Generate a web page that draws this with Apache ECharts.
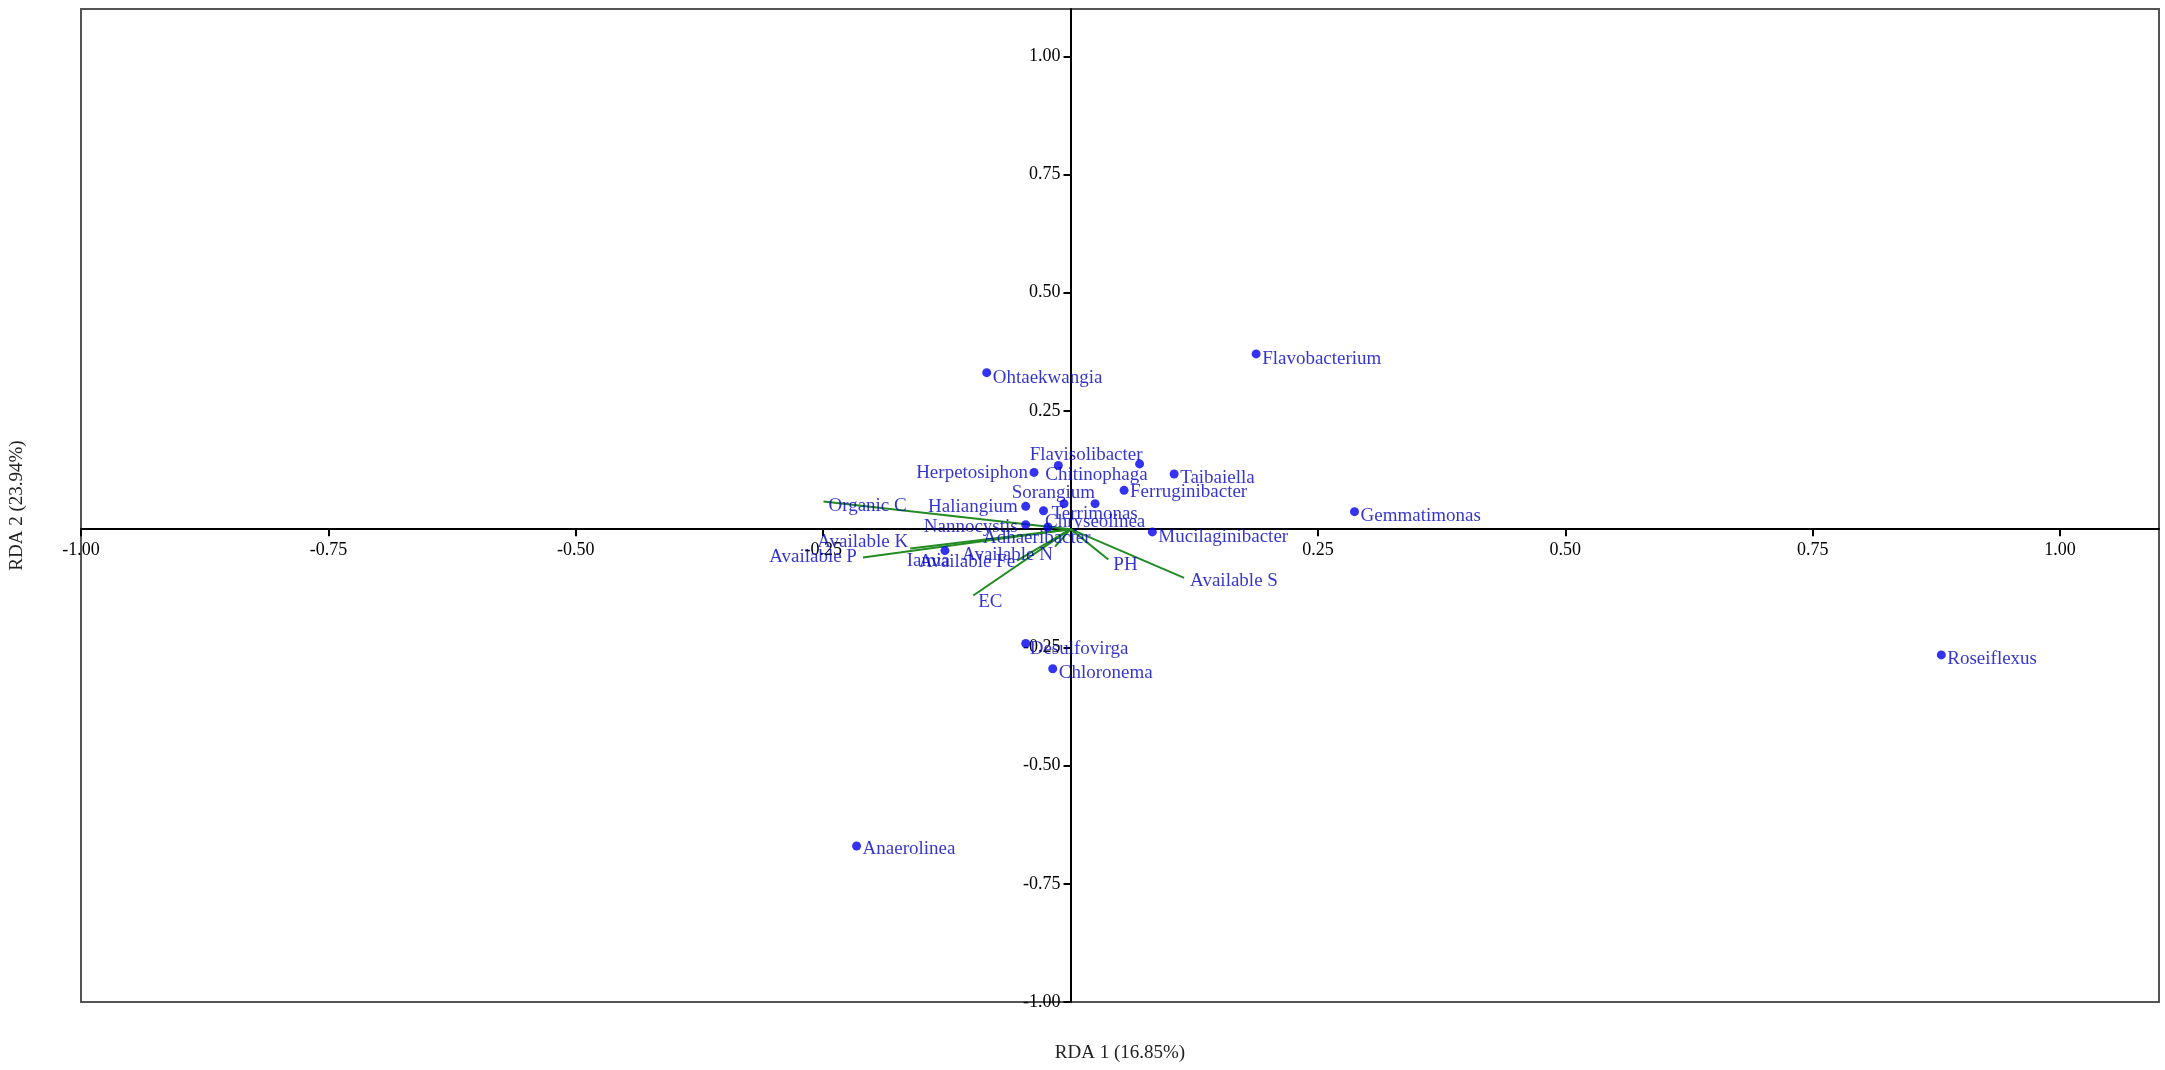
<!DOCTYPE html>
<html><head><meta charset="utf-8">
<script src="https://cdn.jsdelivr.net/npm/echarts@6/dist/echarts.min.js"></script>
<style>html,body{margin:0;padding:0;background:#fff}#c{width:2165px;height:1070px}</style>
</head><body><div id="c"></div>
<script>
// ---- data ----
const speciesNames = ["Ohtaekwangia","Flavobacterium","Flavisolibacter","Herpetosiphon","Chitinophaga","Taibaiella","Sorangium","Ferruginibacter","Haliangium","Terrimonas","Gemmatimonas","Nannocystis","Chryseolinea","Mucilaginibacter","Adhaeribacter","Iamia","Desulfovirga","Chloronema","Roseiflexus","Anaerolinea"];
const speciesX = [-0.0847, 0.1876, 0.0698, -0.0369, -0.0123, 0.1047, 0.0248, 0.0541, -0.0453, -0.0273, 0.287, -0.0453, -0.0066, 0.0827, -0.0228, -0.1269, -0.0453, -0.018, 0.880, -0.2162];
const speciesY = [0.331, 0.3706, 0.138, 0.120, 0.1347, 0.1166, 0.0539, 0.082, 0.0482, 0.039, 0.037, 0.0095, 0.0539, -0.0059, 0.0046, -0.0454, -0.2418, -0.2952, -0.266, -0.670];

const envNames = ["Organic C","Available K","Available P","Available Fe","Available N","EC","PH","Available S"];
const envX = [-0.2497, -0.162, -0.2098, -0.054, -0.0157, -0.0983, 0.0382, 0.1148];
const envY = [0.0587, -0.041, -0.060, -0.0665, -0.037, -0.1404, -0.0644, -0.103];

const axisMin = -1, axisMax = 1.1, axisStep = 0.25;
const xAxisTitle = "RDA 1 (16.85%)";
const yAxisTitle = "RDA 2 (23.94%)";

// ---- label placement (style only) ----
const R = (dx, dy) => ({align: 'left', offset: [dx, dy]});
const L = (dx, dy) => ({align: 'right', offset: [dx, dy]});
const speciesLabelPlace = {
  "Ohtaekwangia": R(6,5), "Flavobacterium": R(6,5), "Taibaiella": R(6,4),
  "Ferruginibacter": R(6,2), "Mucilaginibacter": R(6,5), "Gemmatimonas": R(6,4),
  "Roseiflexus": R(6,4), "Anaerolinea": R(6,3), "Desulfovirga": R(4,6),
  "Chloronema": R(6,4), "Terrimonas": R(8,3),
  "Herpetosiphon": L(-6,1), "Haliangium": L(-8,1), "Nannocystis": L(-8,2),
  "Iamia": L(5,10), "Chitinophaga": R(-13,10), "Flavisolibacter": L(3,-9),
  "Sorangium": L(0,-11), "Chryseolinea": R(-19,18), "Adhaeribacter": R(-65,11)
};
const envLabelPlace = {
  "Organic C": R(5,5), "Available K": L(-2,-7), "Available P": L(-6,0),
  "Available Fe": L(-2,1), "Available N": L(-2,8), "EC": R(5,6),
  "PH": R(5,5), "Available S": R(6,3)
};

const FONT = "'Liberation Serif','Times New Roman',serif";
const BLUE_TXT = '#0000C0';
const BLUE_DOT = '#0000EE';
const GREEN = '#228B22';

const W = 2165, H = 1070;
const G = {left: 81, right: 6, top: 9, bottom: 68};
const plotW = W - G.left - G.right, plotH = H - G.top - G.bottom;
// move the axes to the origin lines (x = 0, y = 0)
const xAxisShift = -plotH * (0 - axisMin) / (axisMax - axisMin);
const yAxisShift = -plotW * (0 - axisMin) / (axisMax - axisMin);

function lbl(p) {
  return {show: true, position: 'inside', verticalAlign: 'middle', align: p.align, offset: p.offset,
          color: BLUE_TXT, fontFamily: FONT, fontSize: 19, formatter: '{b}'};
}

const speciesData = speciesNames.map((n, i) => ({name: n, value: [speciesX[i], speciesY[i]], label: lbl(speciesLabelPlace[n])}));
const envLineData = envNames.map((n, i) => ({name: n, coords: [[0, 0], [envX[i], envY[i]]]}));
const envTipData = envNames.map((n, i) => ({name: n, value: [envX[i], envY[i]], label: lbl(envLabelPlace[n])}));

const fmt = v => (Math.abs(v) < 1e-9 ? '' : v.toFixed(2));

const axisCommon = {
  type: 'value', min: axisMin, max: axisMax, interval: axisStep,
  splitLine: {show: false},
  axisLine: {show: true, onZero: false, lineStyle: {color: '#000', width: 2}},
  axisTick: {show: true, length: 7, lineStyle: {color: '#000', width: 2}},
  axisLabel: {show: true, color: '#000', fontFamily: FONT, fontSize: 18, formatter: fmt, showMaxLabel: false},
  nameLocation: 'middle',
  nameTextStyle: {color: '#222', fontFamily: FONT, fontSize: 19}
};

const chart = echarts.init(document.getElementById('c'), null, {renderer: 'canvas'});
chart.setOption({
  animation: false,
  backgroundColor: '#fff',
  grid: {left: G.left, right: G.right, top: G.top, bottom: G.bottom, show: true, borderColor: '#555', borderWidth: 2,
         containLabel: false, outerBoundsMode: 'none'},
  xAxis: Object.assign({}, axisCommon, {
    position: 'bottom', offset: xAxisShift,
    name: xAxisTitle, nameGap: 514,
    axisLabel: Object.assign({}, axisCommon.axisLabel, {margin: 12})
  }),
  yAxis: Object.assign({}, axisCommon, {
    position: 'left', offset: yAxisShift,
    name: yAxisTitle, nameGap: 1044, nameRotate: 90,
    axisLabel: Object.assign({}, axisCommon.axisLabel, {margin: 10})
  }),
  series: [
    {type: 'lines', coordinateSystem: 'cartesian2d', polyline: false, z: 2,
     lineStyle: {color: GREEN, width: 2, opacity: 1, curveness: 0}, symbol: 'none',
     data: envLineData, silent: true},
    {type: 'scatter', z: 3, symbol: 'circle', symbolSize: 9, itemStyle: {color: BLUE_DOT},
     data: speciesData},
    {type: 'scatter', z: 4, symbol: 'circle', symbolSize: 0.1, itemStyle: {color: 'rgba(0,0,0,0)'},
     data: envTipData}
  ]
});
</script></body></html>
